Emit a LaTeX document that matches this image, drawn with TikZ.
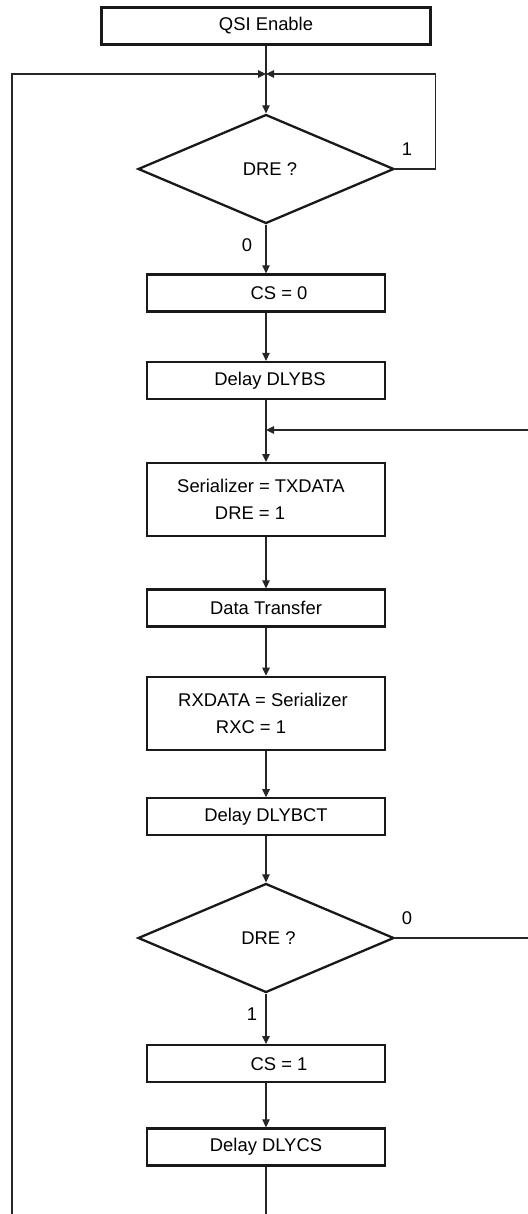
\documentclass[tikz,border=0pt]{standalone}
\usepackage{fontspec}
\setmainfont{Liberation Sans}
\usetikzlibrary{shapes.geometric,arrows.meta}
\tikzset{
  block/.style={draw=black!90, line width=2.3pt, minimum width=238pt, minimum height=37pt, inner sep=0pt},
  tallblock/.style={block, minimum height=73pt, align=center},
  decision/.style={diamond, draw=black!90, line width=2.3pt, minimum width=256pt, minimum height=109pt, aspect=2.35, inner sep=0pt},
  flow/.style={draw=black!85, line width=1.2pt, -{Triangle[length=8pt,width=7.5pt]}},
  lbl/.style={inner sep=0pt}
}
\begin{document}
\begin{tikzpicture}[x=1pt, y=-1pt, font=\fontsize{18.4}{27}\selectfont]
  \useasboundingbox (0,0) rectangle (527,1214);
  % main column
  \node[block, minimum width=329pt] (qsi) at (266,26) {QSI Enable};
  \node[decision] (dre1) at (266,169) {\hspace*{8pt}DRE ?};
  \node[block] (cs0) at (266,293) {\hspace*{26pt}CS = 0};
  \node[block] (dlybs) at (266,380.5) {\hspace*{8pt}Delay DLYBS};
  \node[tallblock] (ser) at (266,499.7) {Serializer = TXDATA\rule{10pt}{0pt}\\DRE = 1\rule{32pt}{0pt}};
  \node[block] (xfer) at (266,608) {Data Transfer};
  \node[tallblock] (rxd) at (266,713.3) {RXDATA = Serializer\rule{6pt}{0pt}\\RXC = 1\rule{30pt}{0pt}};
  \node[block] (dlybct) at (266,816.8) {Delay DLYBCT};
  \node[decision] (dre2) at (266,938) {\hspace*{5pt}DRE ?};
  \node[block] (cs1) at (266,1063.7) {\hspace*{26pt}CS = 1};
  \node[block] (dlycs) at (266,1147) {Delay DLYCS};
  \coordinate (join1) at (266,74);
  \coordinate (join2) at (266,430);
  % branch labels
  \node[lbl] (one1) at (407,149) {1};
  \node[lbl] (zero1) at (247,245) {0};
  \node[lbl] (zero2) at (407,918) {0};
  \node[lbl] (one2) at (252,1014) {1};
  % connectors
  \draw[flow] (qsi) -- (dre1);
  \draw[flow] (dre1) -- (cs0);
  \draw[flow] (cs0) -- (dlybs);
  \draw[flow] (dlybs) -- (ser);
  \draw[flow] (ser) -- (xfer);
  \draw[flow] (xfer) -- (rxd);
  \draw[flow] (rxd) -- (dlybct);
  \draw[flow] (dlybct) -- (dre2);
  \draw[flow] (dre2) -- (cs1);
  \draw[flow] (cs1) -- (dlycs);
  % loops back
  \draw[flow] (dre1.east) -- ++(40,0) |- (join1);
  \draw[flow] (dre2.east) -- ++(140,0) |- (join2);
  \draw[flow] (dlycs) -- ++(0,80) -| (12,74) -- (join1);
\end{tikzpicture}
\end{document}
